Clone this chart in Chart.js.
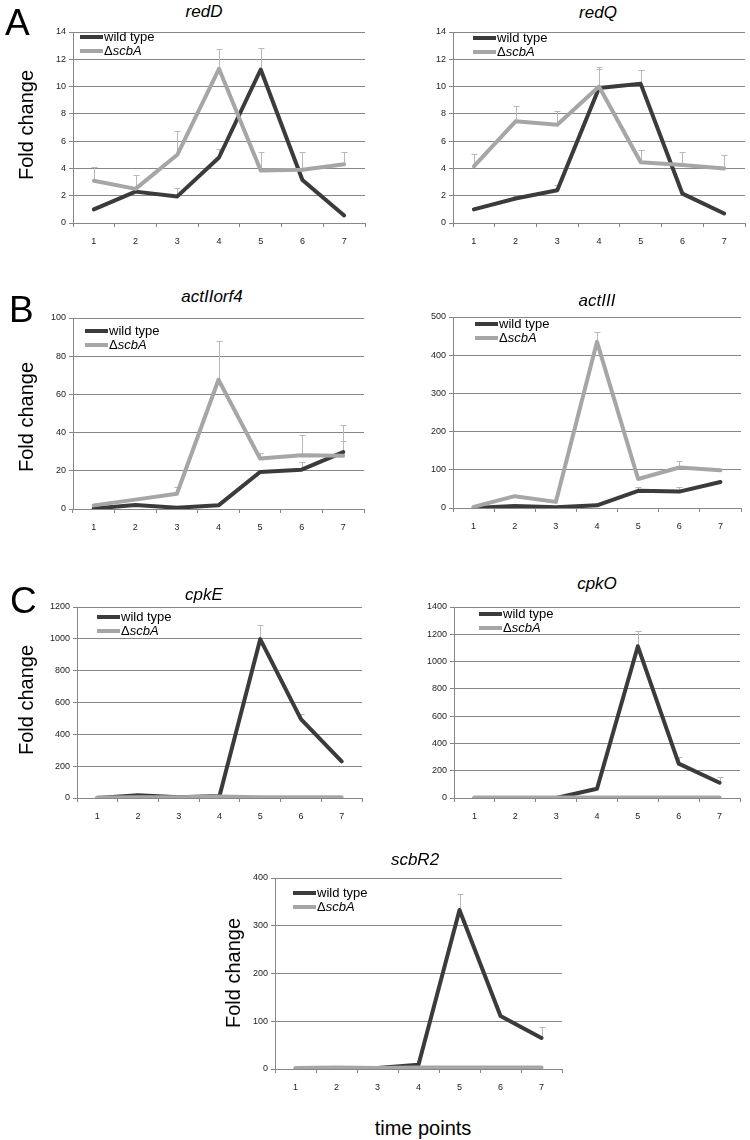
<!DOCTYPE html>
<html><head><meta charset="utf-8">
<script src="https://cdn.jsdelivr.net/npm/chart.js@4.4.1/dist/chart.umd.min.js"></script>
<style>
html,body{margin:0;padding:0;background:#fff;}
body{width:750px;height:1140px;position:relative;overflow:hidden;font-family:"Liberation Sans",Arial,sans-serif;}
canvas{position:absolute;}
.t{position:absolute;white-space:nowrap;color:#000;line-height:1;z-index:5;}
.title{font-size:17px;font-style:italic;width:200px;text-align:center;}
.letter{font-size:37px;}
.yl{font-size:20px;transform:translate(-50%,-50%) rotate(-90deg);}
</style></head><body>
<canvas id="c1"></canvas><canvas id="c2"></canvas><canvas id="c3"></canvas><canvas id="c4"></canvas>
<canvas id="c5"></canvas><canvas id="c6"></canvas><canvas id="c7"></canvas>

<div class="t letter" style="left:5px;top:4px;">A</div>
<div class="t letter" style="left:9px;top:291px;">B</div>
<div class="t letter" style="left:10px;top:582px;">C</div>

<div class="t title" style="left:104px;top:3px;">redD</div>
<div class="t title" style="left:498px;top:4px;">redQ</div>
<div class="t title" style="left:112px;top:288px;">actIIorf4</div>
<div class="t title" style="left:497px;top:292px;">actIII</div>
<div class="t title" style="left:104px;top:586px;">cpkE</div>
<div class="t title" style="left:497px;top:575px;">cpkO</div>
<div class="t title" style="left:315px;top:851px;">scbR2</div>

<div class="t yl" style="left:26px;top:125px;">Fold change</div>
<div class="t yl" style="left:26px;top:417px;">Fold change</div>
<div class="t yl" style="left:26px;top:700px;">Fold change</div>
<div class="t yl" style="left:233px;top:973px;">Fold change</div>
<div class="t" style="font-size:20px;left:423px;top:1128px;transform:translate(-50%,-50%);">time points</div>

<script>
// ---------- data ----------
const timePoints = ['1','2','3','4','5','6','7'];
const seriesNames = ['wild type', 'ΔscbA'];

const redD_wt      = [1.0, 2.3, 1.95, 4.8, 11.25, 3.15, 0.55];
const redD_wtErr   = [0, 0, 0.6, 0.65, 1.6, 0, 0];
const redD_mut     = [3.1, 2.5, 5.0, 11.3, 3.85, 3.9, 4.3];
const redD_mutErr  = [0.97, 1.0, 1.78, 1.46, 1.34, 1.29, 0.94];

const redQ_wt      = [1.0, 1.8, 2.4, 9.9, 10.2, 2.15, 0.7];
const redQ_wtErr   = [0, 0.2, 0.4, 1.4, 1.0, 0, 0];
const redQ_mut     = [4.15, 7.45, 7.2, 10.0, 4.45, 4.25, 4.0];
const redQ_mutErr  = [0.92, 1.09, 1.02, 1.41, 0.9, 0.97, 0.97];

const actII_wt     = [0.3, 2.1, 0.7, 1.9, 19.4, 20.6, 29.8];
const actII_wtErr  = [0, 0, 0, 0, 0, 4.0, 5.6];
const actII_mut    = [1.9, 4.9, 8.0, 67.7, 26.4, 28.1, 27.9];
const actII_mutErr = [0, 1.0, 3.5, 20.3, 2.9, 10.5, 15.9];

const actIII_wt     = [0, 5, 2, 7, 45, 43, 68];
const actIII_wtErr  = [0, 0, 0, 0, 11, 13, 0];
const actIII_mut    = [3, 31, 16, 435, 76, 106, 99];
const actIII_mutErr = [0, 3, 0, 26, 0, 17, 0];

const cpkE_wt      = [0, 18, 5, 12, 998, 495, 230];
const cpkE_wtErr   = [0, 0, 0, 0, 92, 33, 0];
const cpkE_mut     = [3, 5, 5, 10, 5, 5, 5];
const cpkE_mutErr  = [0, 0, 0, 0, 0, 0, 0];

const cpkO_wt      = [0, 0, 0, 68, 1112, 252, 112];
const cpkO_wtErr   = [0, 0, 0, 0, 113, 48, 42];
const cpkO_mut     = [4, 4, 4, 4, 4, 4, 4];
const cpkO_mutErr  = [0, 0, 0, 0, 0, 0, 0];

const scbR2_wt     = [0, 1, 2, 9, 333, 111, 65];
const scbR2_wtErr  = [0, 0, 0, 0, 34, 0, 24];
const scbR2_mut    = [2, 3, 2, 3, 3, 3, 3];
const scbR2_mutErr = [0, 0, 0, 0, 0, 0, 0];

// ---------- plugins ----------
const FONT = '"Liberation Sans", Arial, sans-serif';
const errorBarPlugin = {
  id: 'errorBars',
  beforeDatasetsDraw(chart) {
    const ctx = chart.ctx, ys = chart.scales.y;
    chart.data.datasets.forEach((ds, i) => {
      if (!ds.errors) return;
      const meta = chart.getDatasetMeta(i);
      ctx.save();
      ctx.strokeStyle = '#b8b8b8'; ctx.lineWidth = 1;
      meta.data.forEach((pt, j) => {
        const e = ds.errors[j];
        if (!e) return;
        const x = Math.round(pt.x) + 0.5;
        const y0 = ys.getPixelForValue(ds.data[j]);
        const y1 = Math.round(ys.getPixelForValue(ds.data[j] + e)) + 0.5;
        ctx.beginPath();
        ctx.moveTo(x, y0); ctx.lineTo(x, y1);
        ctx.moveTo(x - 3, y1); ctx.lineTo(x + 3, y1);
        ctx.stroke();
      });
      ctx.restore();
    });
  }
};
const insideLegend = {
  id: 'insideLegend',
  afterDraw(chart, args, opts) {
    const ctx = chart.ctx, a = chart.chartArea;
    const x0 = a.left + opts.dx;
    let y = a.top + opts.dy;
    ctx.save();
    chart.data.datasets.slice().sort((p, q) => p.legendIndex - q.legendIndex).forEach(ds => {
      ctx.fillStyle = ds.borderColor;
      ctx.fillRect(x0, y - 2, 23, 4);
      ctx.fillStyle = '#000';
      ctx.textBaseline = 'middle';
      let tx = x0 + 24;
      let parts = ds.label.startsWith('Δ') ? [['Δ', false], [ds.label.slice(1), true]] : [[ds.label, false]];
      parts.forEach(([txt, it]) => {
        ctx.font = (it ? 'italic ' : '') + '13px ' + FONT;
        ctx.fillText(txt, tx, y);
        tx += ctx.measureText(txt).width;
      });
      y += 14;
    });
    ctx.restore();
  }
};

// ---------- panel builder ----------
const YW = 45, PT = 10, PR = 5, XH = 32;
const GRID = '#878787';
function panel(id, box, wt, wtErr, mut, mutErr, yMax, step, leg) {
  const [L, T, R, B] = box;
  const cv = document.getElementById(id);
  cv.width = YW + (R - L) + PR;
  cv.height = PT + (B - T) + XH;
  cv.style.left = (L - YW) + 'px';
  cv.style.top = (T - PT) + 'px';
  new Chart(cv, {
    type: 'line',
    data: {
      labels: timePoints,
      datasets: [
        { label: seriesNames[1], legendIndex: 1, data: mut, errors: mutErr, borderColor: '#a6a6a6', borderWidth: 4,
          pointRadius: 0, tension: 0, borderJoinStyle: 'round', borderCapStyle: 'round', fill: false },
        { label: seriesNames[0], legendIndex: 0, data: wt, errors: wtErr, borderColor: '#3b3b3b', borderWidth: 4,
          pointRadius: 0, tension: 0, borderJoinStyle: 'round', borderCapStyle: 'round', fill: false }
      ]
    },
    options: {
      responsive: false, animation: false, devicePixelRatio: 1,
      layout: { padding: { top: PT, right: PR, left: 0, bottom: 0 } },
      plugins: { legend: { display: false }, tooltip: { enabled: false }, insideLegend: leg },
      scales: {
        x: {
          type: 'category', offset: true,
          grid: { offset: true, drawOnChartArea: false, tickLength: 4, color: GRID },
          border: { display: true, color: GRID },
          ticks: { font: { size: 9, family: FONT }, color: '#222', padding: 9, maxRotation: 0, autoSkip: false },
          afterFit: s => { s.height = XH; }
        },
        y: {
          min: 0, max: yMax,
          grid: { color: GRID, tickLength: 4 },
          border: { display: true, color: GRID },
          ticks: { stepSize: step, font: { size: 9, family: FONT }, color: '#222', padding: 3,
                   callback: v => String(v) },
          afterFit: s => { s.width = YW; }
        }
      }
    },
    plugins: [errorBarPlugin, insideLegend]
  });
}

panel('c1', [73, 32, 365, 223], redD_wt, redD_wtErr, redD_mut, redD_mutErr, 14, 2, { dx: 7, dy: 5 });
panel('c2', [453, 32, 745, 223], redQ_wt, redQ_wtErr, redQ_mut, redQ_mutErr, 14, 2, { dx: 20, dy: 6 });
panel('c3', [73, 318, 364, 509], actII_wt, actII_wtErr, actII_mut, actII_mutErr, 100, 20, { dx: 12, dy: 13 });
panel('c4', [453, 317, 741, 508], actIII_wt, actIII_wtErr, actIII_mut, actIII_mutErr, 500, 100, { dx: 22, dy: 7 });
panel('c5', [77, 607, 362, 798], cpkE_wt, cpkE_wtErr, cpkE_mut, cpkE_mutErr, 1200, 200, { dx: 20, dy: 10 });
panel('c6', [454, 607, 740, 798], cpkO_wt, cpkO_wtErr, cpkO_mut, cpkO_mutErr, 1400, 200, { dx: 25, dy: 7 });
panel('c7', [275, 878, 562, 1069], scbR2_wt, scbR2_wtErr, scbR2_mut, scbR2_mutErr, 400, 100, { dx: 18, dy: 15 });
</script>
</body></html>
